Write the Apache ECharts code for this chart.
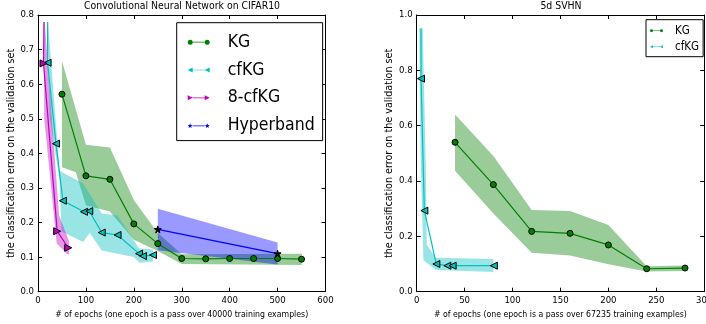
<!DOCTYPE html>
<html><head><meta charset="utf-8">
<script src="https://cdn.jsdelivr.net/npm/echarts@6/dist/echarts.min.js"></script>
<style>html,body{margin:0;padding:0;background:#fff}#c{width:706px;height:324px}</style>
</head><body><div id="c"></div>
<script>
// ---------------- Left panel: CIFAR10 ----------------
const cifarTitle = 'Convolutional Neural Network on CIFAR10';
const cifarXName = '# of epochs (one epoch is a pass over 40000 training examples)';
const cifarXTicks = [0, 100, 200, 300, 400, 500, 600];
const cifarYTicks = [0.0, 0.1, 0.2, 0.3, 0.4, 0.5, 0.6, 0.7, 0.8];

const cifarKgX = [50, 100, 150, 200, 250, 300, 350, 400, 450, 500, 550];
const cifarKgY = [0.571, 0.335, 0.325, 0.196, 0.139, 0.096, 0.095, 0.096, 0.096, 0.096, 0.094];
const cifarKgUpX = [50, 100, 150, 200, 250, 300, 550];
const cifarKgUpY = [0.667, 0.425, 0.417, 0.265, 0.17, 0.108, 0.11];
const cifarKgLoX = [50, 79, 100, 150, 200, 250, 300, 550];
const cifarKgLoY = [0.36, 0.345, 0.25, 0.232, 0.15, 0.118, 0.08, 0.077];

const cifarCfkgStart = [20, 0.78];
const cifarCfkgX = [20, 37.5, 52, 96, 107, 133, 166, 211, 219, 240];
const cifarCfkgY = [0.662, 0.428, 0.263, 0.231, 0.233, 0.171, 0.164, 0.11, 0.103, 0.106];
const cifarCfkgUpX = [21, 45, 94, 133, 166, 211, 240];
const cifarCfkgUpY = [0.78, 0.35, 0.313, 0.226, 0.22, 0.125, 0.122];
const cifarCfkgLoX = [19, 25, 45, 49, 94, 108, 133, 200, 212, 240];
const cifarCfkgLoY = [0.78, 0.5, 0.323, 0.175, 0.144, 0.17, 0.119, 0.1, 0.084, 0.087];

const cifar8Start = [12.5, 0.78];
const cifar8X = [11.5, 40, 63];
const cifar8Y = [0.66, 0.175, 0.127];
const cifar8UpX = [14, 44, 65];
const cifar8UpY = [0.78, 0.22, 0.145];
const cifar8LoX = [12, 13, 39, 60, 65];
const cifar8LoY = [0.78, 0.5, 0.14, 0.11, 0.108];

const cifarHbX = [250, 500];
const cifarHbY = [0.18, 0.11];
const cifarHbUpX = [250, 500];
const cifarHbUpY = [0.24, 0.142];
const cifarHbLoX = [250, 500];
const cifarHbLoY = [0.12, 0.079];

// ---------------- Right panel: SVHN ----------------
const svhnTitle = '5d SVHN';
const svhnXName = '# of epochs (one epoch is a pass over 67235 training examples)';
const svhnXTicks = [0, 50, 100, 150, 200, 250, 300];
const svhnYTicks = [0.0, 0.2, 0.4, 0.6, 0.8, 1.0];

const svhnKgX = [40, 80, 120, 160, 200, 240, 280];
const svhnKgY = [0.54, 0.387, 0.218, 0.211, 0.169, 0.083, 0.0855];
const svhnKgUpY = [0.64, 0.49, 0.295, 0.292, 0.241, 0.092, 0.095];
const svhnKgLoY = [0.437, 0.283, 0.141, 0.131, 0.099, 0.073, 0.075];

const svhnCfkgStart = [4.5, 0.95];
const svhnCfkgX = [4.5, 8, 20.5, 32, 37.5, 80.5];
const svhnCfkgY = [0.77, 0.293, 0.1, 0.094, 0.094, 0.094];
const svhnCfkgUpX = [6.3, 9.5, 10.5, 20, 80];
const svhnCfkgUpY = [0.953, 0.45, 0.17, 0.123, 0.118];
const svhnCfkgLoX = [2.7, 4, 7, 20, 80];
const svhnCfkgLoY = [0.953, 0.5, 0.114, 0.078, 0.071];

const yLabel = 'the classification error on the validation set';

// ---------------- helpers ----------------
const FONT = "'DejaVu Sans Condensed', 'DejaVu Sans', sans-serif";
const C = { kg: '#008000', cf: '#00bfbf', m8: '#bf00bf', hb: '#0000ff' };
const zip = (xs, ys) => xs.map((x, i) => [x, ys[i]]);
const STAR = 'path://M50,0L61,35L98,35L68,57L79,91L50,70L21,91L32,57L2,35L39,35Z';

function band(name, upX, upY, loX, loY, color, xi, yi) {
  const pts = zip(upX, upY).concat(zip(loX, loY).reverse());
  return {
    type: 'custom', name: name, xAxisIndex: xi, yAxisIndex: yi, silent: true, z: 1,
    data: pts, encode: { x: 0, y: 1 },
    renderItem: function (params, api) {
      if (params.dataIndex !== 0) return;
      return { type: 'polygon', shape: { points: pts.map(p => api.coord(p)) },
        style: { fill: color, opacity: 0.4 } };
    }
  };
}
function line(name, start, xs, ys, color, symbol, size, rotate, symColor, xi, yi) {
  const data = [];
  if (start) data.push({ value: start, symbol: 'none' });
  zip(xs, ys).forEach(p => data.push(p));
  return {
    type: 'line', name: name, xAxisIndex: xi, yAxisIndex: yi, z: 3, data: data,
    symbol: symbol, symbolSize: size, symbolRotate: rotate, showAllSymbol: true,
    lineStyle: { color: color, width: 1.2 },
    itemStyle: { color: symColor, borderColor: '#000', borderWidth: 1 },
    emphasis: { disabled: true }, animation: false
  };
}
function axesX(ticks, gi, name) {
  const base = { type: 'value', gridIndex: gi, min: ticks[0], max: ticks[ticks.length - 1],
    interval: ticks[1] - ticks[0], splitLine: { show: false },
    axisLine: { show: true, onZero: false, lineStyle: { color: '#000', width: 1 } },
    axisTick: { show: true, inside: true, length: 4, lineStyle: { color: '#000' } } };
  return [
    Object.assign({}, base, { position: 'bottom', name: name, nameLocation: 'middle', nameGap: 16,
      nameTextStyle: { fontFamily: FONT, fontSize: 8.7, color: '#000' },
      axisLabel: { fontFamily: FONT, fontSize: 9.5, color: '#000', margin: 4 } }),
    Object.assign({}, base, { position: 'top', axisLabel: { show: false } })
  ];
}
function axesY(ticks, gi, gap) {
  const base = { type: 'value', gridIndex: gi, min: ticks[0], max: ticks[ticks.length - 1],
    interval: +(ticks[1] - ticks[0]).toFixed(2), splitLine: { show: false },
    axisLine: { show: true, onZero: false, lineStyle: { color: '#000', width: 1 } },
    axisTick: { show: true, inside: true, length: 4, lineStyle: { color: '#000' } } };
  return [
    Object.assign({}, base, { position: 'left', name: yLabel, nameLocation: 'middle', nameGap: gap,
      nameTextStyle: { fontFamily: FONT, fontSize: 10.7, color: '#000' },
      axisLabel: { fontFamily: FONT, fontSize: 9.5, color: '#000', margin: 4, formatter: v => v.toFixed(1) } }),
    Object.assign({}, base, { position: 'right', axisLabel: { show: false } })
  ];
}
function starPath(cx, cy, r) {
  let s = '';
  for (let i = 0; i < 10; i++) {
    const a = -Math.PI / 2 + i * Math.PI / 5, rr = i % 2 ? r * 0.45 : r;
    s += (i ? 'L' : 'M') + (cx + rr * Math.cos(a)).toFixed(2) + ',' + (cy + rr * Math.sin(a)).toFixed(2);
  }
  return s + 'Z';
}
const BAR = 'M10,5.3L34,5.3L34,6.7L10,6.7Z';
const ICONS = {
  'KG': 'path://M0,6A5,5 0 1,0 10,6A5,5 0 1,0 0,6Z' + BAR + 'M34,6A5,5 0 1,0 44,6A5,5 0 1,0 34,6Z',
  'cfKG': 'path://M0,6L10,1L10,11Z' + BAR + 'M34,6L44,1L44,11Z',
  '8-cfKG': 'path://M0,1L10,6L0,11Z' + BAR + 'M34,1L44,6L34,11Z',
  'Hyperband': 'path://' + starPath(5, 6, 5) + BAR + starPath(39, 6, 5)
};
const LEG_COLORS = { 'KG': C.kg, 'cfKG': C.cf, '8-cfKG': C.m8, 'Hyperband': C.hb };
const legItem = n => ({ name: n, icon: ICONS[n], itemStyle: { color: LEG_COLORS[n], borderWidth: 0 } });

const option = {
  animation: false,
  backgroundColor: '#fff',
  title: [
    { text: cifarTitle, left: 182, top: 1.5, textAlign: 'center', padding: 0,
      textStyle: { fontFamily: FONT, fontSize: 10.4, fontWeight: 'normal', color: '#000' } },
    { text: svhnTitle, left: 561, top: 1.5, textAlign: 'center', padding: 0,
      textStyle: { fontFamily: FONT, fontSize: 10.4, fontWeight: 'normal', color: '#000' } }
  ],
  grid: [
    { left: 38, top: 15, width: 287.5, height: 276.7, containLabel: false, outerBoundsMode: 'none' },
    { left: 416.7, top: 15, width: 287.5, height: 276.7, containLabel: false, outerBoundsMode: 'none' }
  ],
  xAxis: axesX(cifarXTicks, 0, cifarXName).concat(axesX(svhnXTicks, 1, svhnXName)),
  yAxis: axesY(cifarYTicks, 0, 17).concat(axesY(svhnYTicks, 1, 17)),
  legend: [
    { data: ['KG', 'cfKG', '8-cfKG', 'Hyperband'].map(legItem),
      orient: 'vertical', left: 176.7, top: 22.7, padding: [9.5, 8, 5, 11],
      itemWidth: 22, itemHeight: 6, itemGap: 7.8, backgroundColor: '#fff',
      borderColor: '#000', borderWidth: 1, borderRadius: 0,
      itemStyle: { borderWidth: 0 },
      textStyle: { fontFamily: FONT, fontSize: 17.5, lineHeight: 20, color: '#000', padding: [0, 0, 0, 13] } },
    { data: ['KG', 'cfKG'].map(legItem),
      orient: 'vertical', left: 646, top: 19.7, padding: [5, 4, 4, 4],
      itemWidth: 13, itemHeight: 4, itemGap: 4, backgroundColor: '#fff',
      borderColor: '#000', borderWidth: 1, borderRadius: 0,
      itemStyle: { borderWidth: 0 },
      textStyle: { fontFamily: FONT, fontSize: 11.5, lineHeight: 12, color: '#000', padding: [0, 0, 0, 7] } }
  ],
  series: [
    line('KG', null, cifarKgX, cifarKgY, C.kg, 'circle', 6, 0, C.kg, 0, 0),
    line('cfKG', cifarCfkgStart, cifarCfkgX, cifarCfkgY, C.cf, 'triangle', 7, 90, C.cf, 0, 0),
    line('8-cfKG', cifar8Start, cifar8X, cifar8Y, C.m8, 'triangle', 7, -90, C.m8, 0, 0),
    line('Hyperband', null, cifarHbX, cifarHbY, C.hb, STAR, 7, 0, '#000', 0, 0),
    line('KG', null, svhnKgX, svhnKgY, C.kg, 'circle', 6, 0, C.kg, 2, 2),
    line('cfKG', svhnCfkgStart, svhnCfkgX, svhnCfkgY, C.cf, 'triangle', 7, 90, C.cf, 2, 2),
    band('KG band', cifarKgUpX, cifarKgUpY, cifarKgLoX, cifarKgLoY, C.kg, 0, 0),
    band('cfKG band', cifarCfkgUpX, cifarCfkgUpY, cifarCfkgLoX, cifarCfkgLoY, C.cf, 0, 0),
    band('8-cfKG band', cifar8UpX, cifar8UpY, cifar8LoX, cifar8LoY, C.m8, 0, 0),
    band('Hyperband band', cifarHbUpX, cifarHbUpY, cifarHbLoX, cifarHbLoY, C.hb, 0, 0),
    band('KG band 2', svhnKgX, svhnKgUpY, svhnKgX, svhnKgLoY, C.kg, 2, 2),
    band('cfKG band 2', svhnCfkgUpX, svhnCfkgUpY, svhnCfkgLoX, svhnCfkgLoY, C.cf, 2, 2)
  ]
};
const chart = echarts.init(document.getElementById('c'), null, { renderer: 'canvas' });
chart.setOption(option);
</script>
</body></html>
